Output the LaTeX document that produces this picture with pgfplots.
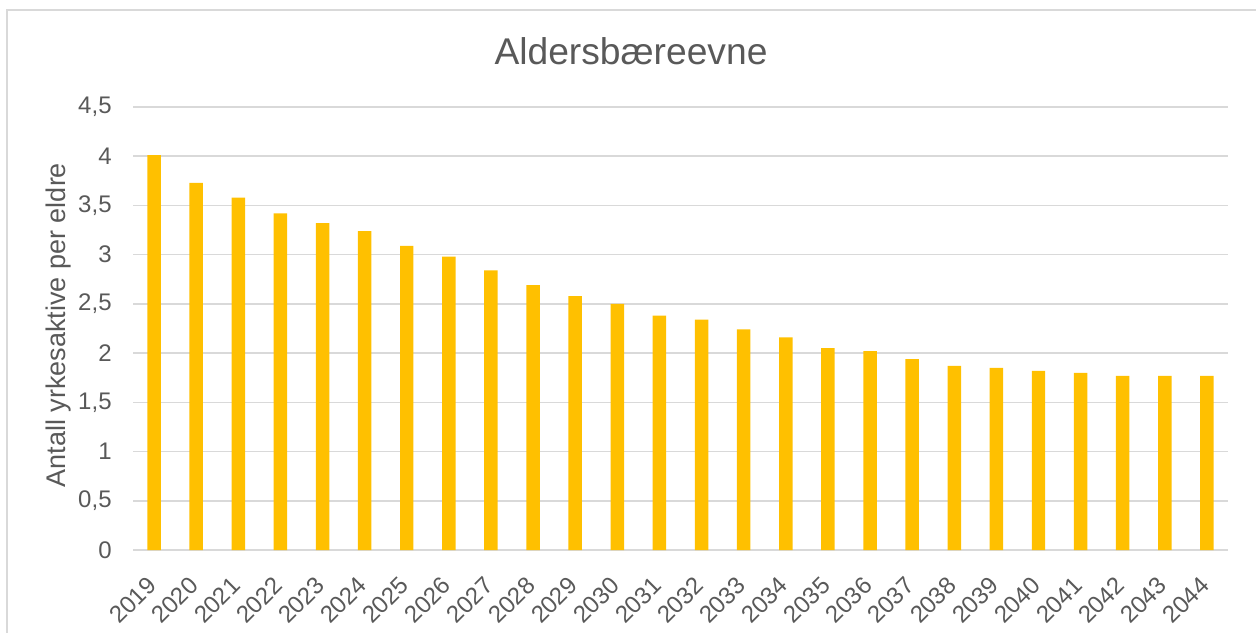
\documentclass[border=0pt]{standalone}
\usepackage{fontspec}
\setmainfont{Liberation Sans}
\usepackage{pgfplots}
\pgfplotsset{compat=1.18}
\definecolor{bargold}{HTML}{FFC000}
\definecolor{gridgray}{HTML}{D9D9D9}
\definecolor{txtgray}{HTML}{595959}

\begin{document}
\begin{tikzpicture}
\useasboundingbox (0,0) rectangle (628pt,316pt);
% chart frame (runs off the right and bottom edge)
\draw[gridgray, line width=1pt] (3.5pt,-20pt) rectangle (660pt,311pt);

\begin{axis}[
    at={(66.5pt,41pt)}, anchor=south west,
    scale only axis,
    width=547.5pt, height=221.5pt,
    ybar, bar width=0.32, bar shift=0pt,
    xmin=2018.5, xmax=2044.5,
    ymin=0, ymax=4.5,
    ytick={0,0.5,...,4.5},
    xtick=data,
    axis line style={draw=none},
    major tick length=0pt,
    ymajorgrids=true,
    grid style={gridgray, line width=0.75pt},
    /pgf/number format/assume math mode=true,
    /pgf/number format/use comma,
    tick label style={font=\fontsize{12}{14}\selectfont, text=txtgray},
    yticklabel style={inner sep=0pt, anchor=east, xshift=-10.5pt},
    xticklabel style={/pgf/number format/1000 sep={}, inner sep=0pt,
        xshift=-1pt, yshift=-15.5pt, rotate=45, anchor=east},
]
\addplot[fill=bargold, draw=none] coordinates {
    (2019,4.01)(2020,3.73)(2021,3.58)(2022,3.42)(2023,3.32)(2024,3.24)
    (2025,3.09)(2026,2.98)(2027,2.84)(2028,2.69)(2029,2.58)(2030,2.50)
    (2031,2.38)(2032,2.34)(2033,2.24)(2034,2.16)(2035,2.05)(2036,2.02)
    (2037,1.94)(2038,1.87)(2039,1.85)(2040,1.82)(2041,1.80)(2042,1.77)
    (2043,1.77)(2044,1.77)
};
\end{axis}

\node[anchor=base, text=txtgray, font=\fontsize{18.6}{22}\selectfont]
    at (315.5pt,283.9pt) {Aldersbæreevne};
\node[rotate=90, text=txtgray, font=\fontsize{13.5}{16}\selectfont]
    at (29.5pt,153.5pt) {Antall yrkesaktive per eldre};
\end{tikzpicture}
\end{document}
